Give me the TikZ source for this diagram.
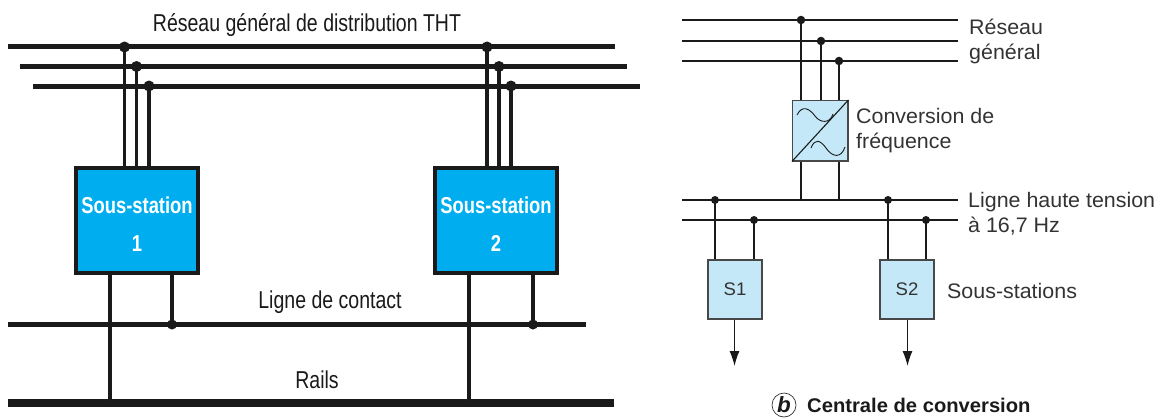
\documentclass[tikz,border=0pt]{standalone}
\usepackage{fontspec}
\setmainfont{Liberation Sans}
\newfontfamily\narrowfont[FakeStretch=0.8]{Liberation Sans}
\newfontfamily\rightfont[FakeStretch=1.02]{Liberation Sans}
\usetikzlibrary{arrows.meta}
\definecolor{strong}{HTML}{00AEEF}
\definecolor{pale}{HTML}{C4E8F8}
\definecolor{ink}{HTML}{1A1A1A}
\definecolor{txt}{HTML}{333333}
\tikzset{
  x=1pt,y=-1pt,
  busL/.style={draw=ink,line width=5pt},
  railL/.style={draw=ink,line width=8pt},
  feedL/.style={draw=ink,line width=3.2pt},
  dotL/.style={circle,fill=ink,inner sep=0pt,minimum size=11pt},
  dotS/.style={circle,fill=ink,inner sep=0pt,minimum size=8pt},
  dotR/.style={circle,fill=ink,inner sep=0pt,minimum size=8.5pt},
  busR/.style={draw=ink,line width=1.3pt},
  busRb/.style={draw=ink,line width=2.2pt},
  feedR/.style={draw=ink,line width=1.1pt},
  stationbox/.style={draw=ink,line width=4.5pt,fill=strong,minimum width=122pt,minimum height=105pt,inner sep=0pt},
  stationtext/.style={inner sep=0pt,text=white,align=center,font=\narrowfont\bfseries\fontsize{23}{38}\selectfont},
  smallbox/.style={draw=ink!80,line width=1.1pt,fill=pale,minimum width=54pt,minimum height=59pt,inner sep=0pt,text=txt,font=\rightfont\fontsize{18.2}{20}\selectfont},
  lablL/.style={text=ink,inner sep=0pt,font=\narrowfont\fontsize{24.4}{26}\selectfont},
  lablR/.style={text=txt,inner sep=0pt,anchor=west,align=left,font=\rightfont\fontsize{21}{25}\selectfont},
}
\begin{document}
\begin{tikzpicture}
\useasboundingbox (0,0) rectangle (1164,420);
% left buses
\coordinate (a1) at (8,47); \coordinate (a2) at (615,47);
\coordinate (b1) at (20,66.5); \coordinate (b2) at (627,66.5);
\coordinate (c1) at (33,86); \coordinate (c2) at (640,86);
\coordinate (d1) at (8,324.5); \coordinate (d2) at (586,324.5);
\coordinate (e1) at (8,403); \coordinate (e2) at (614,403);
\draw[busL] (a1) -- (a2);
\draw[busL] (b1) -- (b2);
\draw[busL] (c1) -- (c2);
\draw[busL] (d1) -- (d2);
\draw[railL] (e1) -- (e2);
\coordinate (s1c) at (137,220.5);
\coordinate (s2c) at (496,220.5);
\node[dotL] (j11) at (124.5,47) {};
\node[dotL] (j12) at (136.5,66.5) {};
\node[dotL] (j13) at (149,86) {};
\node[dotL] (j21) at (487,47) {};
\node[dotL] (j22) at (499,66.5) {};
\node[dotL] (j23) at (511,86) {};
\node[dotL,minimum size=10pt] (k1) at (172,324.5) {};
\node[dotL,minimum size=10pt] (k2) at (533,324.5) {};
\node[dotL,minimum size=8pt] (r1) at (110,403) {};
\node[dotL,minimum size=8pt] (r2) at (469,403) {};
\foreach \j in {j11,j12,j13,k1,r1}{\draw[feedL] (\j.center) -- (\j.center |- s1c);}
\foreach \j in {j21,j22,j23,k2,r2}{\draw[feedL] (\j.center) -- (\j.center |- s2c);}
\node[stationbox] (s1) at (s1c) {};
\node[stationbox] (s2) at (s2c) {};
\node[stationtext] (s1t) at (137,224) {Sous-station\\1};
\node[stationtext] (s2t) at (496,224) {Sous-station\\2};
\node[lablL] (t1) at (307,25) {Réseau général de distribution THT};
\node[lablL] (t2) at (330,302.5) {Ligne de contact};
\node[lablL] (t3) at (317,379.5) {Rails};
% right
\coordinate (p1) at (682,20); \coordinate (p2) at (958,20);
\coordinate (q1) at (682,41); \coordinate (q2) at (958,41);
\coordinate (u1) at (682,61); \coordinate (u2) at (958,61);
\coordinate (v1) at (682,200); \coordinate (v2) at (958,200);
\coordinate (w1) at (682,220); \coordinate (w2) at (958,220);
\draw[busR] (p1) -- (p2);
\draw[busRb] (q1) -- (q2);
\draw[busR] (u1) -- (u2);
\draw[busR] (v1) -- (v2);
\draw[busR] (w1) -- (w2);
\node[smallbox,minimum width=55.5pt,minimum height=60.5pt] (conv) at (820.2,130.7) {};
\node[dotR] (m1) at (801,20) {};
\node[dotR] (m2) at (821,41) {};
\node[dotR] (m3) at (839,61) {};
\draw[feedR] (m1.center) -- (m1.center |- conv.north);
\draw[feedR] (m2.center) -- (m2.center |- conv.north);
\draw[feedR] (m3.center) -- (m3.center |- conv.north);
\coordinate (o1) at (801,200); \coordinate (o2) at (839,200);
\draw[feedR] (o1) -- (o1 |- conv.south);
\draw[feedR] (o2) -- (o2 |- conv.south);
\draw[feedR] (conv.south west) -- (conv.north east);
\draw[feedR,line width=.9pt] (797,115) .. controls (802,105) and (809,108) .. (815,116) .. controls (820,123) and (830,124) .. (833,114);
\draw[feedR,line width=.9pt] (811,148) .. controls (815,138) and (820,140) .. (826,148) .. controls (832,157) and (841,159) .. (845,147);
\node[smallbox] (st1) at (735,289.5) {S1};
\node[smallbox] (st2) at (907,289.5) {S2};
\node[dotS] (n1) at (715,200) {};
\node[dotS] (n2) at (754,220) {};
\node[dotS] (n3) at (888,200) {};
\node[dotS] (n4) at (926,220) {};
\draw[feedR] (n1.center) -- (n1.center |- st1.north);
\draw[feedR] (n2.center) -- (n2.center |- st1.north);
\draw[feedR] (n3.center) -- (n3.center |- st2.north);
\draw[feedR] (n4.center) -- (n4.center |- st2.north);
\coordinate (f1) at (734.5,366); \coordinate (f2) at (907.5,366);
\draw[feedR,-{Latex[length=15pt,width=10pt]}] (f1 |- st1.south) -- (f1);
\draw[feedR,-{Latex[length=15pt,width=10pt]}] (f2 |- st2.south) -- (f2);
\node[lablR] (l1) at (969,41) {Réseau\\général};
\node[lablR] (l2) at (856,131) {Conversion de\\fréquence};
\node[lablR] (l3) at (968,213.5) {Ligne haute tension\\à 16,7 Hz};
\node[lablR] (l4) at (947,291) {Sous-stations};
\node[draw=txt,circle,line width=.7pt,inner sep=0pt,minimum size=24pt,text=ink,font=\rightfont\bfseries\itshape\fontsize{22}{22}\selectfont] (bb) at (784,405) {b};
\node[anchor=west,inner sep=0pt,text=ink,font=\rightfont\bfseries\fontsize{19.8}{22}\selectfont] (cap) at (807,405) {Centrale de conversion};
\end{tikzpicture}
\end{document}
